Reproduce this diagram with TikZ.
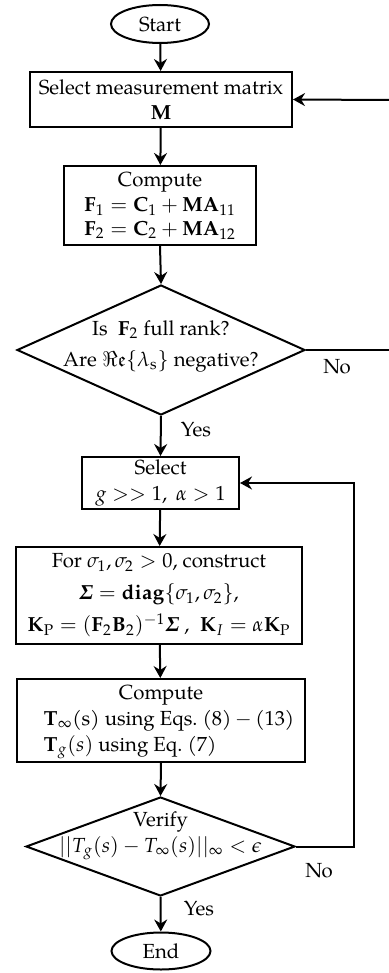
\documentclass[tikz,border=0pt]{standalone}
\usepackage{amsmath,amssymb}
\usepackage{mathpazo}
\usepackage{fontspec}
\setmainfont{TeX Gyre Pagella}
\usetikzlibrary{shapes.geometric,arrows.meta}
\tikzset{
  every node/.style={font=\fontsize{10.2}{12.5}\selectfont},
  flow/.style={line width=1pt,-{Stealth[length=6pt,width=6.5pt,inset=2pt]}},
  plain/.style={line width=1pt},
  term/.style={draw,line width=1pt,ellipse,inner sep=0pt},
  proc/.style={draw,line width=1pt,rectangle,inner sep=0pt,align=center},
  dec/.style={draw,line width=1pt,diamond,inner sep=0pt},
  txt/.style={align=center,inner sep=0pt},
}
\begin{document}
\begin{tikzpicture}[x=0.5pt,y=-0.5pt]
\useasboundingbox (0,0) rectangle (389,973);
% nodes
\node[term,minimum width=49pt,minimum height=19pt] (start) at (160,24) {Start};
\node[proc,minimum width=131pt,minimum height=27.5pt] (sel) at (161,99.5)
  {Select measurement matrix\\[0pt] $\mathbf{M}$};
\node[proc,minimum width=96pt,minimum height=39.5pt] (comp) at (160,205.5)
  {Compute\\[0pt] $\mathbf{F}_1 = \mathbf{C}_1 + \mathbf{MA}_{11}$\\[-0.5pt] $\mathbf{F}_2 = \mathbf{C}_2 + \mathbf{MA}_{12}$};
\node[dec,minimum width=144pt,minimum height=65pt] (d1) at (161,350) {};
\node[txt] (d1t) at (161,346) {Is\hspace{5pt}$\mathbf{F}_2$ full rank?\\[3pt] Are $\Re\mathfrak{e}\{\lambda_{\mathrm{s}}\}$ negative?};
\node[proc,minimum width=78.5pt,minimum height=26pt] (sel2) at (160.5,483)
  {Select\\[0.5pt] $g >> 1,\ \alpha > 1$};
\node[proc,minimum width=143pt,minimum height=48.5pt] (cons) at (159,595.5)
  {For $\sigma_1,\sigma_2 > 0$,\ construct\\[3.5pt]
   $\boldsymbol{\varSigma} = \mathbf{diag}\{\sigma_1,\sigma_2\}$,\\[3.5pt]
   $\mathbf{K}_{\mathrm{P}} = (\mathbf{F}_2\mathbf{B}_2)^{-1}\boldsymbol{\varSigma}$\ ,\ \ $\mathbf{K}_I = \alpha\mathbf{K}_{\mathrm{P}}$};
\node[proc,minimum width=144pt,minimum height=41.5pt] (comp2) at (161,720.5)
  {\hspace*{8pt}\begin{tabular}{@{}l@{}}\multicolumn{1}{@{}c@{}}{\hspace*{-8pt}Compute}\\[0.5pt]
   $\mathbf{T}_\infty$(s) using Eqs.\ (8)\,$-$\,(13)\\[0.5pt]
   $\mathbf{T}_g(s)$ using Eq.\ (7)\end{tabular}};
\node[dec,minimum width=134.5pt,minimum height=49.5pt] (d2) at (160.5,846.5) {};
\node[txt] (d2t) at (160.5,836) {Verify\\[0.5pt] $||T_g(s) - T_\infty(s)||_\infty < \epsilon$};
\node[term,minimum width=49.5pt,minimum height=18.5pt] (end) at (161,951) {End};
% labels
\node[txt] (no1) at (337,367) {No};
\node[txt] (yes1) at (196,430) {Yes};
\node[txt] (no2) at (319,871) {No};
\node[txt] (yes2) at (199,909) {Yes};
% coordinates
\coordinate (e1) at (389,100);
\coordinate (e2) at (389,350);
\coordinate (c1) at (354,846.5);
\coordinate (c2) at (354,483);
% connectors
\draw[flow] (start) -- (sel);
\draw[flow] (sel) -- (comp);
\draw[flow] (comp.south) -- (d1.north);
\draw[flow] (d1.south) -- (sel2.north);
\draw[flow] (sel2) -- (cons);
\draw[flow] (cons) -- (comp2);
\draw[flow] (comp2.south) -- (d2.north);
\draw[flow] (d2.south) -- (end);
\draw[plain] (d1.east) -- (e2);
\draw[flow] (e1) -- (sel.east);
\draw[flow] (d2.east) -- (c1) -- (c2) -- (sel2.east);
\end{tikzpicture}
\end{document}
